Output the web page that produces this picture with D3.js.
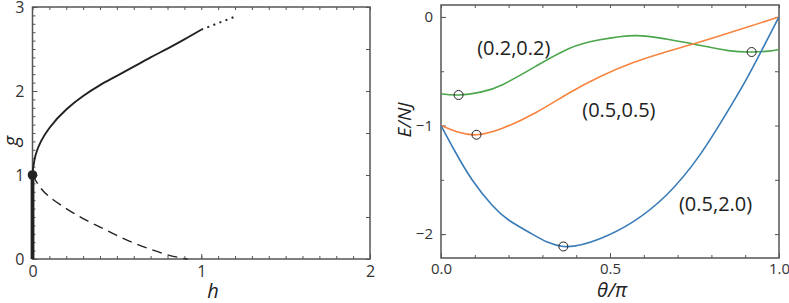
<!DOCTYPE html>
<html>
<head>
<meta charset="utf-8">
<script src="https://cdn.jsdelivr.net/npm/d3@7"></script>
<style>
  body { margin: 0; background: #fff; }
  svg { display: block; font-family: "Open Sans", "Noto Sans", sans-serif; }
  .tick text { fill: #333; }
</style>
</head>
<body>
<svg id="chart" width="789" height="303"></svg>
<script>
// ---- left panel data (h, g) ----
const upperH = [0, 0.005, 0.02, 0.05, 0.1, 0.2, 0.3, 0.4, 0.5, 0.6, 0.7, 0.8, 0.9, 1.0];
const upperG = [1, 1.1, 1.25, 1.40, 1.56, 1.78, 1.94, 2.07, 2.18, 2.29, 2.40, 2.505, 2.615, 2.73];
const dottedH = [1.0, 1.2];
const dottedG = [2.73, 2.885];
const lowerH = [0, 0.05, 0.1, 0.2, 0.3, 0.4, 0.5, 0.6, 0.7, 0.8, 0.9, 0.92];
const lowerG = [1, 0.84, 0.74, 0.60, 0.48, 0.38, 0.28, 0.19, 0.115, 0.05, 0.005, 0];
const stemH = [0, 0];
const stemG = [0, 1];
const pointH = [0], pointG = [1];

// ---- right panel data (theta/pi, E/NJ) ----
const blueT = [0, 0.04, 0.092, 0.15, 0.2, 0.27, 0.362, 0.47, 0.569, 0.667, 0.766, 0.85, 0.9, 0.95, 1.0];
const blueE = [-1.0, -1.23, -1.5, -1.73, -1.87, -2.0, -2.114, -2.043, -1.885, -1.64, -1.27, -0.858, -0.593, -0.30, 0];
const orangeT = [0, 0.05, 0.105, 0.182, 0.281, 0.379, 0.47, 0.569, 0.667, 0.746, 0.865, 1.0];
const orangeE = [-1.0, -1.06, -1.085, -1.025, -0.88, -0.70, -0.55, -0.42, -0.32, -0.25, -0.135, 0];
const greenT = [0, 0.052, 0.12, 0.182, 0.28, 0.379, 0.47, 0.574, 0.66, 0.746, 0.85, 0.919, 0.97, 1.0];
const greenE = [-0.707, -0.719, -0.69, -0.624, -0.455, -0.29, -0.21, -0.172, -0.20, -0.249, -0.31, -0.323, -0.315, -0.30];
const minT = [0.052, 0.105, 0.362, 0.919];
const minE = [-0.719, -1.085, -2.114, -0.323];
const labels = ["(0.2,0.2)", "(0.5,0.5)", "(0.5,2.0)"];
const labelT = [0.107, 0.418, 0.704];
const labelE = [-0.35, -0.92, -1.79];

const svg = d3.select("#chart");
const zip = (xs, ys) => xs.map((x, i) => [x, ys[i]]);

function frame(x, y, xMinor, yMinorL, yMinorR, xFmt, yFmt, xMajor, yMajor, xPad, fs) {
    const g = svg.append("g");
    const [x0, x1] = x.range(), [y0, y1] = y.range();
    // minor ticks on all four sides
    g.append("g").attr("transform", `translate(0,${y0})`)
        .call(d3.axisBottom(x).tickValues(xMinor).tickSize(-3).tickFormat(""));
    g.append("g").attr("transform", `translate(0,${y1})`)
        .call(d3.axisTop(x).tickValues(xMinor).tickSize(-3).tickFormat(""));
    g.append("g").attr("transform", `translate(${x0},0)`)
        .call(d3.axisLeft(y).tickValues(yMinorL).tickSize(-3).tickFormat(""));
    g.append("g").attr("transform", `translate(${x1},0)`)
        .call(d3.axisRight(y).tickValues(yMinorR).tickSize(-4).tickFormat(""));
    // labelled ticks
    g.append("g").attr("transform", `translate(0,${y0})`)
        .call(d3.axisBottom(x).tickValues(xMajor).tickSize(-5).tickPadding(xPad).tickFormat(xFmt));
    g.append("g").attr("transform", `translate(${x0},0)`)
        .call(d3.axisLeft(y).tickValues(yMajor).tickSize(-5).tickPadding(8).tickFormat(yFmt));
    g.selectAll(".domain").remove();
    g.selectAll(".tick line").attr("stroke", "#555").attr("stroke-width", 1);
    g.selectAll(".tick text")
        .attr("font-family", "'Open Sans', sans-serif")
        .attr("font-size", fs);
    g.append("rect")
        .attr("x", x0).attr("y", y1)
        .attr("width", x1 - x0).attr("height", y0 - y1)
        .attr("fill", "none").attr("stroke", "#555").attr("stroke-width", 1.5);
    return g;
}

// ================= left panel =================
const xL = d3.scaleLinear().domain([0, 2]).range([32.5, 370]);
const yL = d3.scaleLinear().domain([0, 3]).range([259, 7]);
const lineL = d3.line().x(d => xL(d[0])).y(d => yL(d[1]));

frame(xL, yL, d3.range(0, 2.01, 0.1), d3.range(0, 3.01, 0.1), d3.range(0, 3.01, 0.5),
    d3.format("d"), d3.format("d"), [0, 1, 2], [0, 1, 2, 3], 7, 16);

svg.append("path").datum(zip(upperH, upperG))
    .attr("d", lineL.curve(d3.curveMonotoneY))
    .attr("fill", "none").attr("stroke", "#222").attr("stroke-width", 1.9);
svg.append("path").datum(zip(dottedH, dottedG))
    .attr("d", lineL.curve(d3.curveLinear))
    .attr("fill", "none").attr("stroke", "#222").attr("stroke-width", 2)
    .attr("stroke-dasharray", "2,4.5");
svg.append("path").datum(zip(lowerH, lowerG))
    .attr("d", lineL.curve(d3.curveCatmullRom.alpha(0.5)))
    .attr("fill", "none").attr("stroke", "#222").attr("stroke-width", 1.4)
    .attr("stroke-dasharray", "10,6");
svg.append("path").datum(zip(stemH, stemG))
    .attr("d", lineL.curve(d3.curveLinear))
    .attr("fill", "none").attr("stroke", "#222").attr("stroke-width", 3.8);
svg.selectAll(".pt").data(zip(pointH, pointG)).enter().append("circle")
    .attr("cx", d => xL(d[0])).attr("cy", d => yL(d[1]))
    .attr("r", 4.8).attr("fill", "#222");

svg.append("text").attr("x", 213).attr("y", 298)
    .attr("text-anchor", "middle").attr("font-size", 20).attr("font-style", "italic")
    .attr("fill", "#222").text("h");
svg.append("text").attr("transform", "translate(18,141) rotate(-90)")
    .attr("text-anchor", "middle").attr("font-size", 20).attr("font-style", "italic")
    .attr("fill", "#222").text("g");

// ================= right panel =================
const xR = d3.scaleLinear().domain([0, 1]).range([441, 779]);
const yR = d3.scaleLinear().domain([-2.22, 0.11]).range([258, 5]);
const lineR = d3.line().x(d => xR(d[0])).y(d => yR(d[1])).curve(d3.curveNatural);

frame(xR, yR, d3.range(0, 1.001, 0.1), [0, -0.5, -1, -1.5, -2], [0, -0.5, -1, -1.5, -2],
    d3.format(".1f"), d3.format("d"), [0, 0.5, 1], [0, -1, -2], 5, 15);

const series = [
    { t: greenT, e: greenE, color: "#4ca64c" },
    { t: orangeT, e: orangeE, color: "#f7843f" },
    { t: blueT, e: blueE, color: "#3a7cb8" }
];
series.forEach(s => {
    svg.append("path").datum(zip(s.t, s.e))
        .attr("d", lineR)
        .attr("fill", "none").attr("stroke", s.color).attr("stroke-width", 1.6);
});
svg.selectAll(".mn").data(zip(minT, minE)).enter().append("circle")
    .attr("cx", d => xR(d[0])).attr("cy", d => yR(d[1]))
    .attr("r", 4.5).attr("fill", "none").attr("stroke", "#222").attr("stroke-width", 1);

svg.selectAll(".lab").data(labels).enter().append("text")
    .attr("x", (d, i) => xR(labelT[i])).attr("y", (d, i) => yR(labelE[i]))
    .attr("font-size", 20).attr("fill", "#222").text(d => d);

svg.append("text").attr("x", 612).attr("y", 297)
    .attr("text-anchor", "middle").attr("font-size", 20).attr("font-style", "italic")
    .attr("fill", "#222").text("θ/π");
svg.append("text").attr("transform", "translate(411,120) rotate(-90)")
    .attr("text-anchor", "middle").attr("font-size", 19).attr("font-style", "italic")
    .attr("fill", "#222").text("E/NJ");
</script>
</body>
</html>
